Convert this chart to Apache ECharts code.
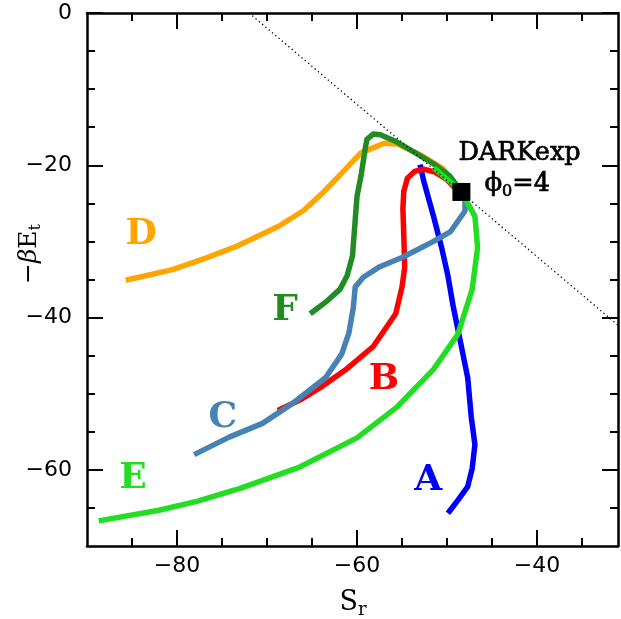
<!DOCTYPE html>
<html><head><meta charset="utf-8">
<script src="https://cdn.jsdelivr.net/npm/echarts@6/dist/echarts.min.js"></script>
<style>html,body{margin:0;padding:0;background:#fff}#c{width:621px;height:619px}</style>
</head><body><div id="c"></div>
<script>
// ---- data (S_r, -beta E_t) ----
const curveA = [[-53.0,-19.9],[-52.6,-22.0],[-51.5,-26.7],[-50.6,-30.8],[-49.9,-34.5],[-49.3,-38.6],[-48.4,-43.8],[-47.7,-47.9],[-47.3,-53.1],[-46.9,-56.7],[-47.2,-59.8],[-47.7,-62.2],[-48.8,-64.0],[-49.9,-65.7]];
const curveB = [[-68.8,-52.2],[-66.3,-50.8],[-64.1,-49.2],[-61.3,-46.9],[-58.2,-43.8],[-55.7,-39.5],[-55.0,-36.0],[-54.7,-33.4],[-54.8,-29.3],[-54.9,-25.7],[-54.8,-23.4],[-54.4,-21.7],[-53.6,-20.8],[-52.6,-20.5],[-51.3,-20.9],[-50.0,-21.9],[-49.1,-23.0],[-48.4,-23.5]];
const curveC = [[-78.1,-58.0],[-74.2,-55.7],[-70.5,-53.9],[-67.2,-51.3],[-63.5,-47.9],[-61.7,-44.8],[-60.9,-42.0],[-60.4,-38.6],[-60.2,-36.0],[-59.3,-34.7],[-57.6,-33.4],[-55.0,-32.1],[-53.3,-31.1],[-51.5,-30.0],[-49.6,-28.7],[-48.0,-26.0],[-48.0,-24.5],[-48.4,-23.5]];
const curveD = [[-85.7,-35.1],[-80.5,-33.7],[-76.8,-32.2],[-73.3,-30.6],[-68.7,-28.0],[-65.9,-25.9],[-63.7,-23.5],[-61.9,-21.3],[-59.6,-18.4],[-57.0,-17.1],[-55.5,-17.2],[-53.0,-18.6],[-50.5,-20.4],[-48.4,-23.5]];
const curveE = [[-88.7,-66.7],[-82.0,-65.3],[-77.7,-64.1],[-72.9,-62.4],[-66.3,-59.6],[-60.0,-55.8],[-55.6,-51.8],[-51.5,-46.8],[-48.8,-42.2],[-47.2,-36.3],[-46.6,-30.8],[-46.9,-26.7],[-47.6,-25.2],[-48.4,-23.5],[-49.3,-22.5],[-51.5,-20.3]];
const curveF = [[-65.2,-39.5],[-63.3,-37.8],[-61.9,-36.3],[-61.1,-34.5],[-60.5,-31.9],[-60.2,-27.2],[-60.0,-24.1],[-59.5,-21.0],[-59.1,-17.9],[-58.9,-16.6],[-58.2,-15.9],[-57.4,-16.0],[-55.8,-16.8],[-53.6,-18.3],[-51.5,-19.8],[-49.7,-21.4],[-48.4,-23.5]];
const darkPoint = [[-48.4,-23.5]];
const refLine = [[-72,0],[-31,-41]];
const curveNames = ['A','B','C','D','E','F'];
const labelPos = [[-52.1,-61.4],[-57.0,-48.2],[-74.9,-53.1],[-84.0,-29.1],[-84.9,-61.1],[-68.0,-39.1]];
const xMajor = [-80,-60,-40];
const xMinor = [-85,-75,-70,-65,-55,-50,-45,-35];
const yMajor = [-60,-40,-20,0];
const yMinor = [-65,-55,-50,-45,-35,-30,-25,-15,-10,-5];

const colors = {A:'#0000ff',B:'#ff0000',C:'#4682b4',D:'#ffa500',E:'#22dd22',F:'#228b22'};
const curves = {A:curveA,B:curveB,C:curveC,D:curveD,E:curveE,F:curveF};
const fmt = v => String(v).replace('-', '\u2212');
const tickFont = {fontFamily:'DejaVu Sans', fontSize:22, color:'#000'};

function xAx(pos, vals, len, line, label){
  return {type:'value', position:pos, min:-90, max:-31,
    axisLine:{show:line,onZero:false,lineStyle:{color:'#000',width:2.5}},
    axisTick:{show:true,inside:true,length:len,customValues:vals,lineStyle:{color:'#000',width:2}},
    axisLabel:Object.assign({show:label,customValues:vals,formatter:fmt,margin:9},tickFont),
    splitLine:{show:false}};
}
function yAx(pos, vals, len, line, label){
  return {type:'value', position:pos, min:-70, max:0,
    axisLine:{show:line,onZero:false,lineStyle:{color:'#000',width:2.5}},
    axisTick:{show:true,inside:true,length:len,customValues:vals,lineStyle:{color:'#000',width:2}},
    axisLabel:Object.assign({show:label,customValues:vals,formatter:fmt,margin:15},tickFont),
    splitLine:{show:false}};
}

const order = ['A','B','C','D','F','E'];
const series = order.map(k => ({
  type:'line', name:k, data:curves[k], showSymbol:false, symbol:'none', smooth:false,
  lineStyle:{color:colors[k], width:5.5, cap:'butt', join:'round'}, z:2, animation:false
}));
series.push({type:'line', data:refLine, symbol:'none', lineStyle:{color:'#000',width:1.3,type:[1.3,3]}, z:3, animation:false});
series.push({type:'scatter', data:labelPos.map((p,i)=>({value:p, name:curveNames[i],
    label:{color:colors[curveNames[i]]}})),
  symbolSize:0, z:4, animation:false, itemStyle:{opacity:1},
  label:{show:true, opacity:1, position:'inside', formatter:p=>p.name, fontFamily:'DejaVu Serif', fontWeight:'bold', fontSize:36}});
const ann = {fontFamily:'DejaVu Serif', color:'#000', textBorderColor:'#000', textBorderWidth:0.7};
series.push({type:'scatter', data:darkPoint, symbol:'rect', symbolSize:18, itemStyle:{color:'#000', opacity:1}, z:5, animation:false,
  label:{show:true, opacity:1, position:[6,-45], align:'left', color:'#000',
    formatter:'{t|DARKexp}\n{p|\u03d5}{s|0}{t|=4}',
    rich:{
      t:Object.assign({fontSize:25.5, lineHeight:31}, ann),
      p:Object.assign({fontSize:26, lineHeight:31, padding:[0,0,0,26]}, ann),
      s:Object.assign({fontSize:16, lineHeight:11, verticalAlign:'bottom'}, ann)
    }}});

const option = {
  backgroundColor:'#fff', animation:false,
  grid:{left:87, right:3, top:13, bottom:73, containLabel:false},
  xAxis:[xAx('bottom',xMajor,16,true,true), xAx('bottom',xMinor,8,false,false), xAx('top',xMajor,16,true,false), xAx('top',xMinor,8,false,false)],
  yAxis:[yAx('left',yMajor,16,true,true), yAx('left',yMinor,8,false,false), yAx('right',yMajor,16,true,false), yAx('right',yMinor,8,false,false)],
  series:series,
  graphic:[
    {type:'text', x:353, y:603, style:{text:'{m|S}{s|r}', align:'center', verticalAlign:'middle',
      rich:{m:{fontFamily:'DejaVu Serif', fontSize:27, lineHeight:32, fill:'#000'}, s:{fontFamily:'DejaVu Serif', fontSize:18, lineHeight:14, verticalAlign:'bottom', fill:'#000'}}}},
    {type:'text', x:29, y:254, rotation:Math.PI/2, style:{text:'{m|\u2212}{g|\u03b2}{m|E}{s|t}', align:'center', verticalAlign:'middle',
      rich:{m:{fontFamily:'DejaVu Serif', fontSize:25, lineHeight:30, fill:'#000'}, g:{fontFamily:'DejaVu Serif', fontStyle:'italic', fontSize:25, lineHeight:30, fill:'#000'}, s:{fontFamily:'DejaVu Serif', fontSize:16, lineHeight:12, verticalAlign:'bottom', fill:'#000'}}}}
  ]
};
const chart = echarts.init(document.getElementById('c'), null, {renderer:'canvas'});
chart.setOption(option);
</script></body></html>
